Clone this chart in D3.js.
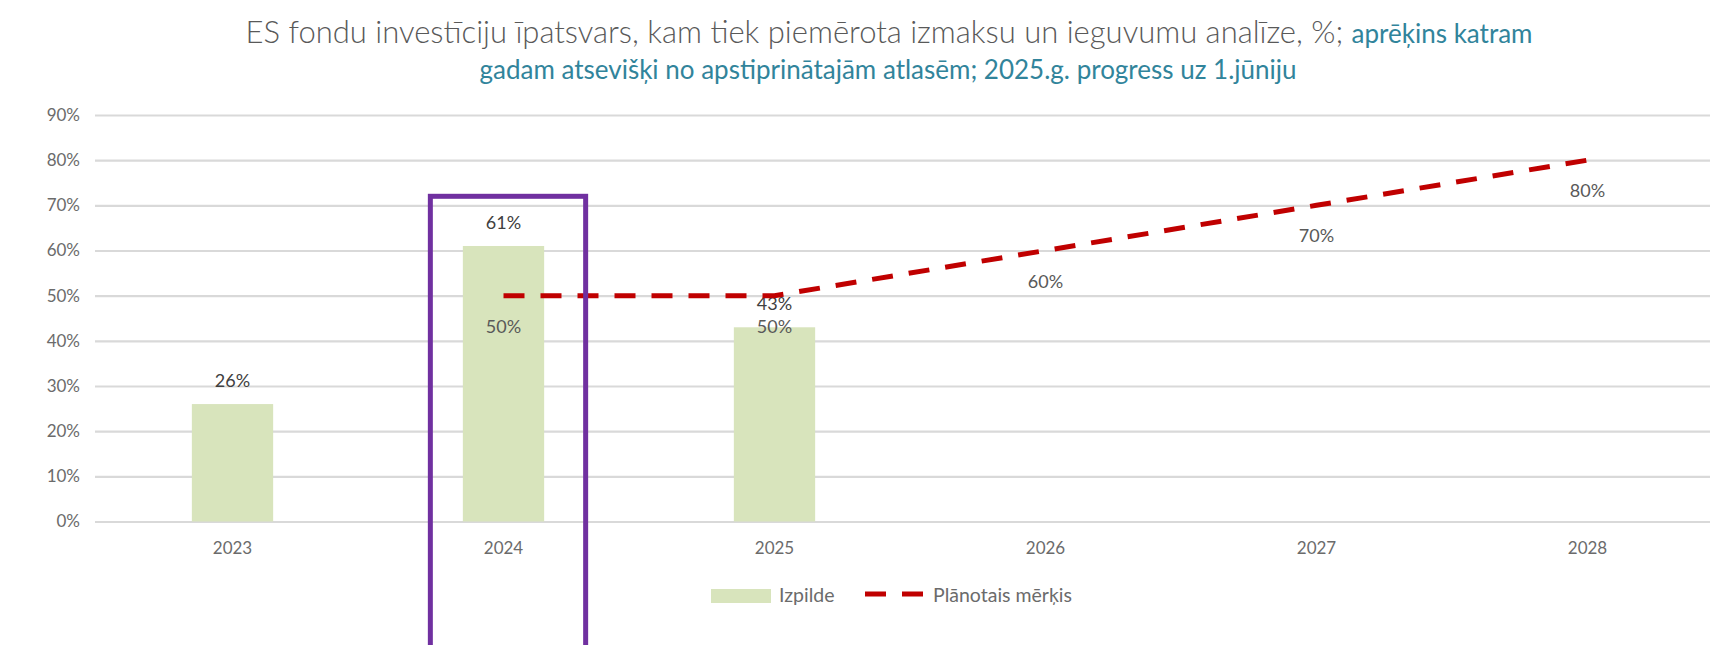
<html>
<head>
<meta charset="utf-8">
<style>
  body { margin: 0; background: white; }
  svg { display: block; font-family: Lato, "Open Sans", sans-serif; }
</style>
</head>
<body>
<svg id="chart" width="1710" height="645" style="background:white;"></svg>

<script src="https://d3js.org/d3.v7.min.js"></script>
<script>
// data
var years = ["2023", "2024", "2025", "2026", "2027", "2028"];
var izpilde = [26, 61, 43, null, null, null];      // bars, %
var merkis = [null, 50, 50, 60, 70, 80];           // planned target, %
var yTicks = [0, 10, 20, 30, 40, 50, 60, 70, 80, 90];

var titleMain = "ES fondu investīciju īpatsvars, kam tiek piemērota izmaksu un ieguvumu analīze, %; ";
var titleSub1 = "aprēķins katram";
var titleSub2 = "gadam atsevišķi no apstiprinātajām atlasēm; 2025.g. progress uz 1.jūniju";
var legendNames = ["Izpilde", "Plānotais mērķis"];

var barColor = "#d8e4bc";
var lineColor = "#c00000";
var teal = "#31849b";

var svg = d3.select("#chart");

// scales (plot runs past the right edge, as in the original screenshot)
var x = d3.scaleBand().domain(years).range([97, 1723]).paddingInner(0.7).paddingOuter(0.35);
var y = d3.scaleLinear().domain([0, 90]).range([521.5, 115]);

// gridlines + y labels
var yAxis = svg.append("g")
    .attr("transform", "translate(95,0)")
    .call(d3.axisLeft(y).tickValues(yTicks).tickFormat(d => d + "%").tickSize(-1630).tickPadding(15));
yAxis.select(".domain").remove();
yAxis.selectAll("line").attr("stroke", "#d9d9d9").attr("stroke-width", 2.2);
yAxis.selectAll("text").attr("fill", "#6b6b6b").style("font-size", "17px").style("font-family", "Lato, sans-serif");

// x labels
var xAxis = svg.append("g")
    .attr("transform", "translate(0," + y(0) + ")")
    .call(d3.axisBottom(x).tickSize(0).tickPadding(20));
xAxis.select(".domain").remove();
xAxis.selectAll("text").attr("fill", "#6b6b6b").style("font-size", "17px").style("font-family", "Lato, sans-serif");

// bars
var barData = years.map((d, i) => ({year: d, v: izpilde[i]})).filter(d => d.v != null);
svg.append("g").selectAll("rect")
    .data(barData)
    .enter()
    .append("rect")
    .attr("x", d => x(d.year))
    .attr("width", x.bandwidth())
    .attr("y", d => y(d.v))
    .attr("height", d => y(0) - y(d.v))
    .attr("fill", barColor);

svg.append("g").selectAll("text")
    .data(barData)
    .enter()
    .append("text")
    .attr("x", d => x(d.year) + x.bandwidth() / 2)
    .attr("y", d => y(d.v) - 17)
    .attr("text-anchor", "middle")
    .attr("fill", "#404040")
    .style("font-size", "18px")
    .text(d => d.v + "%");

// target line
var lineData = years.map((d, i) => ({year: d, v: merkis[i]})).filter(d => d.v != null);
var line = d3.line()
    .x(d => x(d.year) + x.bandwidth() / 2)
    .y(d => y(d.v));
svg.append("path")
    .datum(lineData)
    .attr("d", line)
    .attr("fill", "none")
    .attr("stroke", lineColor)
    .attr("stroke-width", 5)
    .attr("stroke-dasharray", "21,16");

svg.append("g").selectAll("text")
    .data(lineData)
    .enter()
    .append("text")
    .attr("x", d => x(d.year) + x.bandwidth() / 2)
    .attr("y", d => y(d.v) + 37)
    .attr("text-anchor", "middle")
    .attr("fill", "#595959")
    .style("font-size", "18px")
    .text(d => d.v + "%");

// purple highlight around 2024
svg.append("rect")
    .attr("x", x("2024") - 32.5)
    .attr("y", y(72))
    .attr("width", x.bandwidth() + 74)
    .attr("height", 645 - y(72) + 10)
    .attr("fill", "none")
    .attr("stroke", "#7030a0")
    .attr("stroke-width", 5);

// title
var title = svg.append("text")
    .attr("x", 889)
    .attr("y", 43)
    .attr("text-anchor", "middle");
title.append("tspan")
    .attr("fill", "#595959")
    .style("font-size", "31px")
    .style("font-weight", 300)
    .text(titleMain);
title.append("tspan")
    .attr("fill", teal)
    .style("font-size", "26px")
    .text(titleSub1);
svg.append("text")
    .attr("x", 888)
    .attr("y", 79)
    .attr("text-anchor", "middle")
    .attr("fill", teal)
    .style("font-size", "26px")
    .text(titleSub2);

// legend
var legend = svg.append("g");
legend.append("rect")
    .attr("x", 711).attr("y", 589)
    .attr("width", 60).attr("height", 14)
    .attr("fill", barColor);
legend.append("text")
    .attr("x", 779).attr("y", 602)
    .attr("fill", "#6b6b6b")
    .style("font-size", "19.5px")
    .text(legendNames[0]);
legend.append("line")
    .attr("x1", 865).attr("x2", 924)
    .attr("y1", 594).attr("y2", 594)
    .attr("stroke", lineColor)
    .attr("stroke-width", 5)
    .attr("stroke-dasharray", "21,16");
legend.append("text")
    .attr("x", 933).attr("y", 602)
    .attr("fill", "#6b6b6b")
    .style("font-size", "19.5px")
    .text(legendNames[1]);
</script>
</body>
</html>
